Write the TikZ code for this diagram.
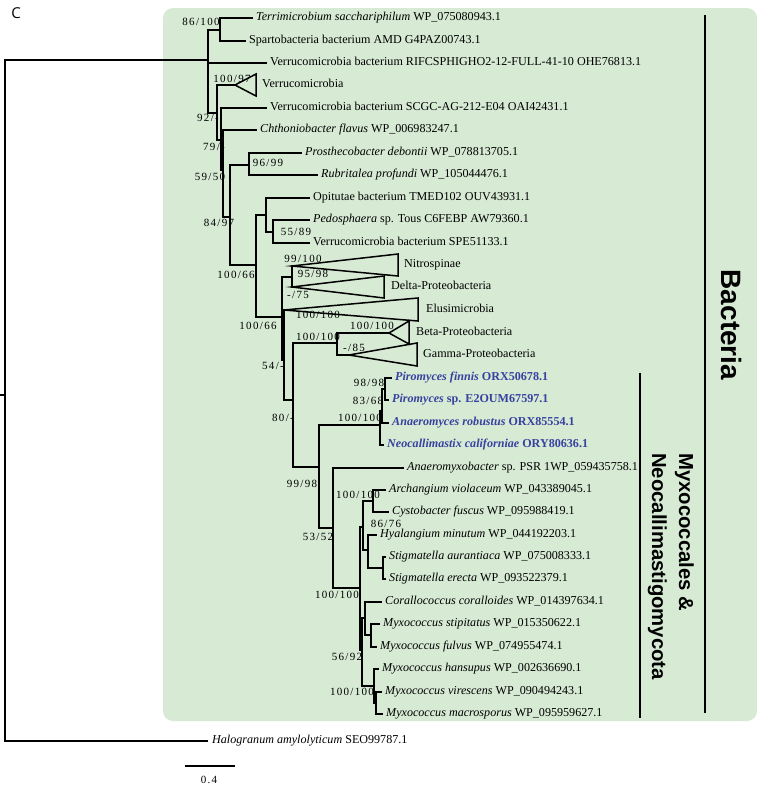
\documentclass[tikz,border=0pt]{standalone}
\usepackage{fontspec}
\setmainfont{Liberation Serif}
\newfontfamily\cladefont{Liberation Sans}
\newfontfamily\supfont[LetterSpace=12]{Liberation Serif}
\newfontfamily\panelfont{Open Sans}
\definecolor{cladegreen}{RGB}{214,234,212}
\definecolor{fungiblue}{RGB}{56,64,160}

\tikzset{
  branch/.style={line width=1.5pt, line cap=rect, line join=miter},
  leaf/.style={anchor=west, inner xsep=4pt, inner ysep=0pt, text height=7pt, text depth=2pt,
    font=\fontsize{12.1}{13}\selectfont},
  fungus/.style={leaf, text=fungiblue, font=\fontsize{12.1}{13}\selectfont\bfseries},
  support/.style={inner sep=0pt, font=\fontsize{11}{12}\selectfont\supfont},
  bar/.style={line width=1.5pt},
  group/.style={rotate=-90, inner sep=0pt},
}

\begin{document}
\begin{tikzpicture}[x=1pt, y=-1pt]
	\useasboundingbox (0,0) rectangle (760,788);
	\fill[cladegreen, rounded corners=10pt] (163,8) rectangle (757,721);
	\node[font=\panelfont\fontsize{15}{15}\selectfont] (panel) at (16,13) {C};

	% leaves
	\node[leaf] (terri) at (252,18) {\textit{Terrimicrobium sacchariphilum} WP\_075080943.1};
	\node[leaf] (sparto) at (245,41) {Spartobacteria bacterium AMD G4PAZ00743.1};
	\node[leaf] (rifc) at (266,63) {Verrucomicrobia bacterium RIFCSPHIGHO2-12-FULL-41-10 OHE76813.1};
	\node[leaf] (verru) at (258,85) {Verrucomicrobia};
	\node[leaf] (scgc) at (266,108) {Verrucomicrobia bacterium SCGC-AG-212-E04 OAI42431.1};
	\node[leaf] (chthon) at (256,130) {\textit{Chthoniobacter flavus} WP\_006983247.1};
	\node[leaf] (prost) at (301,153) {\textit{Prosthecobacter debontii} WP\_078813705.1};
	\node[leaf] (rubri) at (317,175) {\textit{Rubritalea profundi} WP\_105044476.1};
	\node[leaf] (opit) at (309,198) {Opitutae bacterium TMED102 OUV43931.1};
	\node[leaf] (pedos) at (309,220) {\textit{Pedosphaera} sp. Tous C6FEBP AW79360.1};
	\node[leaf] (spe) at (309,243) {Verrucomicrobia bacterium SPE51133.1};
	\node[leaf] (nitro) at (400,265) {Nitrospinae};
	\node[leaf] (delta) at (387,287) {Delta-Proteobacteria};
	\node[leaf] (elusi) at (422,310) {Elusimicrobia};
	\node[leaf] (beta) at (412,333) {Beta-Proteobacteria};
	\node[leaf] (gamma) at (419,355) {Gamma-Proteobacteria};
	\node[fungus] (pfin) at (391,378) {\textit{Piromyces finnis} ORX50678.1};
	\node[fungus] (psp) at (388,400) {\textit{Piromyces} sp. E2OUM67597.1};
	\node[fungus] (anaer) at (388,423) {\textit{Anaeromyces robustus} ORX85554.1};
	\node[fungus] (neoc) at (383,445) {\textit{Neocallimastix californiae} ORY80636.1};
	\node[leaf] (amyx) at (403,468) {\textit{Anaeromyxobacter} sp. PSR 1WP\_059435758.1};
	\node[leaf] (archa) at (385,490) {\textit{Archangium violaceum} WP\_043389045.1};
	\node[leaf] (cysto) at (388,512) {\textit{Cystobacter fuscus} WP\_095988419.1};
	\node[leaf] (hyal) at (376,535) {\textit{Hyalangium minutum} WP\_044192203.1};
	\node[leaf] (stau) at (385,557) {\textit{Stigmatella aurantiaca} WP\_075008333.1};
	\node[leaf] (ster) at (385,579) {\textit{Stigmatella erecta} WP\_093522379.1};
	\node[leaf] (coral) at (381,602) {\textit{Corallococcus coralloides} WP\_014397634.1};
	\node[leaf] (mstip) at (379,624) {\textit{Myxococcus stipitatus} WP\_015350622.1};
	\node[leaf] (mful) at (376,647) {\textit{Myxococcus fulvus} WP\_074955474.1};
	\node[leaf] (mhan) at (378,669) {\textit{Myxococcus hansupus} WP\_002636690.1};
	\node[leaf] (mvir) at (381,692) {\textit{Myxococcus virescens} WP\_090494243.1};
	\node[leaf] (mmac) at (382,714) {\textit{Myxococcus macrosporus} WP\_095959627.1};
	\node[leaf] (halo) at (208,741) {\textit{Halogranum amylolyticum} SEO99787.1};

	% inner nodes
	\coordinate (stem) at (0,395);
	\coordinate (root) at (5,395);
	\coordinate (nB) at (208,60);
	\coordinate (nA) at (220,30);
	\coordinate (n92) at (217,113);
	\coordinate (n79) at (221,140);
	\coordinate (n59) at (223,170);
	\coordinate (n84) at (230,217);
	\coordinate (n96) at (249,165);
	\coordinate (n100a) at (256,265);
	\coordinate (nOp) at (266,215);
	\coordinate (n55) at (273,232);
	\coordinate (n100b) at (282,317);
	\coordinate (nND) at (292,277);
	\coordinate (n54) at (284,360);
	\coordinate (n80) at (293,400);
	\coordinate (nBG) at (337,343);
	\coordinate (n99) at (319,467);
	\coordinate (nF) at (380,425);
	\coordinate (n83) at (382,411);
	\coordinate (n98) at (385,389);
	\coordinate (n53) at (333,528);
	\coordinate (nM) at (360,588);
	\coordinate (nMa) at (363,527);
	\coordinate (nAC) at (373,501);
	\coordinate (n86) at (368,550);
	\coordinate (nS) at (383,568);
	\coordinate (n56) at (362,650);
	\coordinate (nMb) at (365,618);
	\coordinate (nSt) at (371,635);
	\coordinate (nMc) at (374,686);
	\coordinate (nVM) at (376,703);
	% apexes of the collapsed clades
	\coordinate (verruA) at (235,85);
	\coordinate (nitroA) at (292,266);
	\coordinate (deltaA) at (292,287);
	\coordinate (elusiA) at (284,310);
	\coordinate (betaA) at (389,333);
	\coordinate (gammaA) at (349,355);

	\draw[line width=1.2pt] (stem) -- (root) |- (nB);
	\draw[line width=1.2pt] (root) |- (halo.west);
	\foreach \p/\c in {nB/nA, nB/rifc.west, nB/n92, nA/terri.west, nA/sparto.west,
		n92/verruA, n92/n79, n79/scgc.west, n79/n59, n59/chthon.west, n59/n84,
		n84/n96, n84/n100a, n96/prost.west, n96/rubri.west, n100a/nOp, n100a/n100b,
		nOp/opit.west, nOp/n55, n55/pedos.west, n55/spe.west, n100b/nND, n100b/n54,
		nND/nitroA, nND/deltaA, n54/elusiA, n54/n80, n80/nBG, n80/n99,
		nBG/betaA, nBG/gammaA, n99/nF, n99/n53, nF/n83, nF/neoc.west,
		n83/n98, n83/anaer.west, n98/pfin.west, n98/psp.west, n53/amyx.west, n53/nM,
		nM/nMa, nM/n56, nMa/nAC, nMa/n86, nAC/archa.west, nAC/cysto.west,
		n86/hyal.west, n86/nS, nS/stau.west, nS/ster.west, n56/nMb, n56/nMc,
		nMb/coral.west, nMb/nSt, nSt/mstip.west, nSt/mful.west,
		nMc/mhan.west, nMc/nVM, nVM/mvir.west, nVM/mmac.west}
		\draw[branch] (\p) |- (\c);

	% collapsed clades
	\draw[branch] (verruA) -- ++(21,-11) -- ++(0,22) -- cycle;
	\draw[branch] (nitroA) -- ++(106,-12) -- ++(0,22) -- cycle;
	\draw[branch] (deltaA) -- ++(92,-11) -- ++(0,22) -- cycle;
	\draw[branch] (elusiA) -- ++(134,-12) -- ++(0,23) -- cycle;
	\draw[branch] (betaA) -- ++(20,-12) -- ++(0,23) -- cycle;
	\draw[branch] (gammaA) -- ++(68,-12) -- ++(0,23) -- cycle;

	% support values
	\node[support] (s1) at (201,22) {86/100};
	\node[support] (s2) at (232,79) {100/97};
	\node[support] (s3) at (208,118) {92/-};
	\node[support] (s4) at (214,147) {79/-};
	\node[support] (s5) at (210,177) {59/50};
	\node[support] (s6) at (268,163) {96/99};
	\node[support] (s7) at (219,223) {84/97};
	\node[support] (s8) at (296,232) {55/89};
	\node[support] (s9) at (236,275) {100/66};
	\node[support] (s10) at (303,259) {99/100};
	\node[support] (s11) at (313,274) {95/98};
	\node[support] (s12) at (298,295) {-/75};
	\node[support] (s13) at (258,326) {100/66};
	\node[support] (s14) at (318,315) {100/100};
	\node[support] (s15) at (372,326) {100/100};
	\node[support] (s16) at (318,337) {100/100};
	\node[support] (s17) at (354,348) {-/85};
	\node[support] (s18) at (273,366) {54/-};
	\node[support] (s19) at (283,418) {80/-};
	\node[support] (s20) at (369,383) {98/98};
	\node[support] (s21) at (368,401) {83/68};
	\node[support] (s22) at (360,418) {100/100};
	\node[support] (s23) at (302,484) {99/98};
	\node[support] (s24) at (358,495) {100/100};
	\node[support] (s25) at (318,537) {53/52};
	\node[support] (s26) at (386,524) {86/76};
	\node[support] (s27) at (337,595) {100/100};
	\node[support] (s28) at (347,657) {56/92};
	\node[support] (s29) at (352,692) {100/100};

	% groups
	\draw[bar] (705,15) -- (705,713);
	\draw[bar] (640,373) -- (640,718);
	\node[group, font=\fontsize{28}{30}\selectfont\cladefont\bfseries] (bact) at (732,325) {Bacteria};
	\node[group, anchor=north west, align=left, font=\fontsize{20.3}{27}\selectfont\cladefont\bfseries]
		(myxo) at (694,453) {Myxococcales \&\\Neocallimastigomycota};

	% scale
	\draw[line width=1.2pt] (185,766) -- (235,766);
	\node[support] (scale) at (209,780) {0.4};
\end{tikzpicture}
\end{document}
